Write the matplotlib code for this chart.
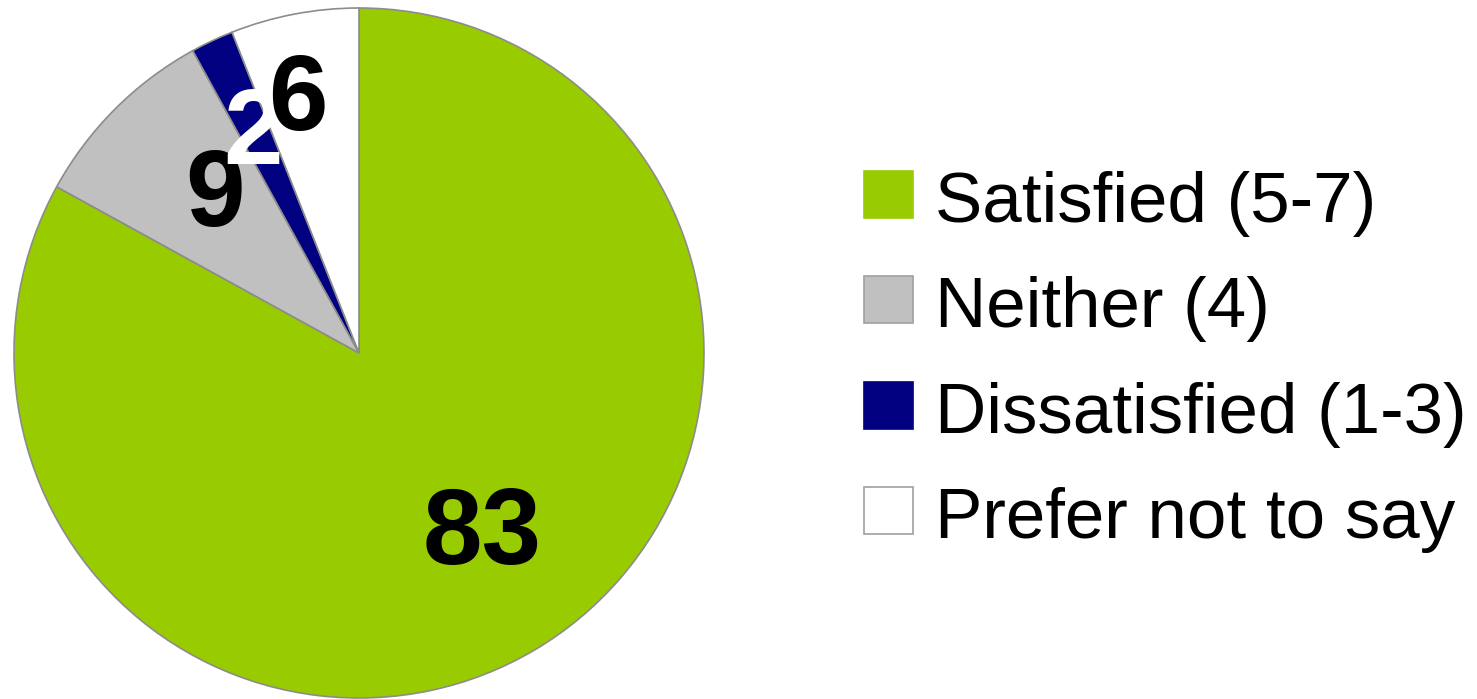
import numpy as np
import matplotlib
matplotlib.use("Agg")
import matplotlib.pyplot as plt
from matplotlib.patches import Rectangle
from matplotlib.transforms import offset_copy

categories = ["Satisfied (5-7)", "Neither (4)", "Dissatisfied (1-3)", "Prefer not to say"]
values = [83, 9, 2, 6]
colors = ["#99CC00", "#C0C0C0", "#000080", "#FFFFFF"]
label_colors = ["black", "black", "white", "black"]

# label placement style (distance from centre, angular nudge in degrees)
label_dist = [0.62, 0.63, 0.72, 0.77]
label_nudge = [4.7, -3.5, 0.0, 2.4]

W, H = 1477, 699
fig = plt.figure(figsize=(W / 100, H / 100), dpi=100)
plt.rcParams['font.family'] = ['Liberation Sans', 'DejaVu Sans']

cx, cy, r = 359, 353, 345
ax = fig.add_axes([(cx - r) / W, (H - cy - r) / H, 2 * r / W, 2 * r / H])
wedges, _ = ax.pie(values, colors=colors, startangle=90, counterclock=False,
                   radius=1.0,
                   wedgeprops=dict(edgecolor="#8C8C8C", linewidth=1.2))
ax.set_xlim(-1, 1)
ax.set_ylim(-1, 1)
ax.set_aspect("equal")
ax.axis("off")

lbl_tr = offset_copy(ax.transData, fig=fig, x=0, y=-8, units="dots")
for w, v, c, d, n in zip(wedges, values, label_colors, label_dist, label_nudge):
    mid = np.deg2rad((w.theta1 + w.theta2) / 2 + n)
    ax.text(d * np.cos(mid), d * np.sin(mid), str(v), color=c,
            fontsize=77, fontweight="bold", ha="center", va="center",
            transform=lbl_tr)

# legend
box_x, box_w, box_h = 864, 49, 47
row_base = [222, 327, 433, 538]
for cat, col, yb in zip(categories, colors, row_base):
    top = yb - 51
    fig.add_artist(Rectangle((box_x / W, (H - top - box_h) / H), box_w / W, box_h / H,
                             transform=fig.transFigure, facecolor=col,
                             edgecolor="#A0A0A0" if col in ("#C0C0C0", "#FFFFFF") else col,
                             linewidth=1.2))
    fig.text(935 / W, (H - yb) / H, cat, fontsize=51, ha="left", va="baseline",
             color="black")

fig.savefig("out.png", dpi=100, facecolor="white")
